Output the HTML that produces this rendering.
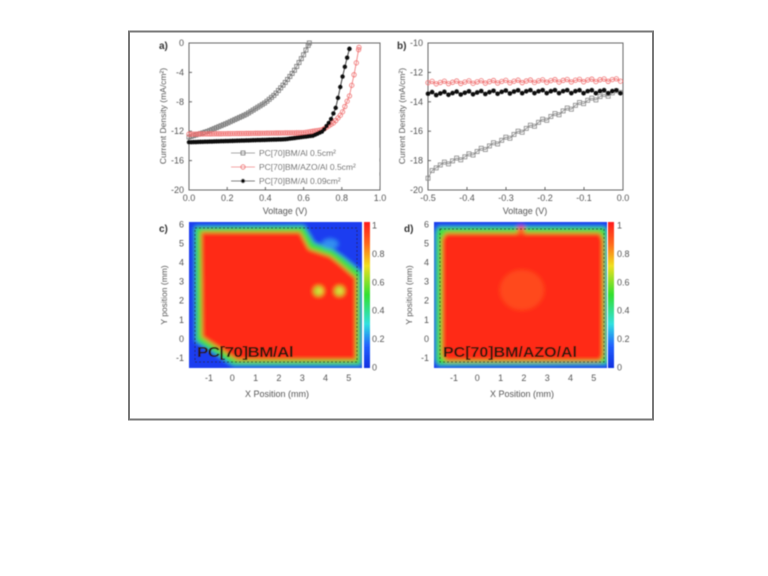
<!DOCTYPE html>
<html><head><meta charset="utf-8"><style>
html,body{margin:0;padding:0;background:#fff;}
svg{display:block;font-family:"Liberation Sans",Arial,sans-serif;}
</style></head><body>
<svg id="s" width="768" height="576" viewBox="0 0 768 576" xmlns="http://www.w3.org/2000/svg">
<defs>
<filter id="bl" x="-10%" y="-10%" width="120%" height="120%"><feGaussianBlur stdDeviation="2.2"/></filter>
<filter id="sb"><feGaussianBlur stdDeviation="0.6"/></filter>
<linearGradient id="cb" x1="0" y1="0" x2="0" y2="1">
<stop offset="0" stop-color="#ff1a1a"/><stop offset="0.15" stop-color="#ff6a1a"/><stop offset="0.3" stop-color="#f0e020"/><stop offset="0.5" stop-color="#30e030"/><stop offset="0.7" stop-color="#30e0e0"/><stop offset="0.85" stop-color="#2060ff"/><stop offset="1" stop-color="#1030e0"/>
</linearGradient>
<clipPath id="cc"><rect x="189" y="222" width="173" height="146"/></clipPath>
<clipPath id="cd"><rect x="434" y="222" width="173" height="146"/></clipPath>
</defs>
<rect x="0" y="0" width="768" height="576" fill="#fff"/>
<rect x="129" y="31.5" width="524" height="388" fill="#fff" stroke="#777" stroke-width="2"/>
<g id="g" filter="url(#sb)"></g>
</svg>
<script>
const g=document.getElementById('g');const NS='http://www.w3.org/2000/svg';
function el(t,a,txt){const e=document.createElementNS(NS,t);for(const k in a)e.setAttribute(k,a[k]);if(txt!==undefined)e.textContent=txt;g.appendChild(e);return e;}
function txt(x,y,s,o){o=o||{};return el('text',Object.assign({x:x,y:y,'font-size':o.fs||9,fill:o.fill||'#555','text-anchor':o.a||'middle'},o.extra||{}),s);}
function interp(pts,x){for(let i=0;i<pts.length-1;i++){if(x>=pts[i][0]&&x<=pts[i+1][0]){const t=(x-pts[i][0])/(pts[i+1][0]-pts[i][0]);return pts[i][1]+t*(pts[i+1][1]-pts[i][1]);}}return pts[pts.length-1][1];}
const ax0=189,ax1=380,ay0=43,ay1=190;
const AX=v=>ax0+v*(ax1-ax0), AY=j=>ay0+(-j)/20*(ay1-ay0);
el('rect',{x:ax0,y:ay0,width:ax1-ax0,height:ay1-ay0,fill:'none',stroke:'#666','stroke-width':1});
for(let i=0;i<=5;i++){const v=i*0.2;const x=AX(v);txt(x,201,v.toFixed(1));el('line',{x1:x,y1:ay1,x2:x,y2:ay1-3,stroke:'#666'});}
for(let j=0;j>=-20;j-=4){const y=AY(j);txt(184,y+3,String(j),{a:'end'});el('line',{x1:ax0,y1:y,x2:ax0+3,y2:y,stroke:'#666'});}
txt(285,214,'Voltage (V)');
txt(159,49,'a)',{fs:10,fill:'#333',extra:{'font-weight':'bold'},a:'start'});
el('text',{x:0,y:0,'font-size':8.5,fill:'#555','text-anchor':'middle',transform:'translate(166,116) rotate(-90)'},'Current Density (mA/cm²)');
const gray=[[0,-12.8],[0.1,-12],[0.2,-10.9],[0.3,-9.7],[0.4,-8.1],[0.45,-7],[0.5,-5.5],[0.55,-3.8],[0.6,-1.6],[0.63,0]];
const red=[[0,-12.4],[0.6,-12.2],[0.7,-11.8],[0.76,-10.8],[0.8,-9.6],[0.84,-7.2],[0.87,-3.6],[0.89,-0.6]];
const blk=[[0,-13.5],[0.5,-13.1],[0.65,-12.6],[0.7,-12],[0.74,-10.6],[0.77,-8.7],[0.8,-5],[0.82,-2.8],[0.84,-0.8]];
function series(pts,step,col,mk,xm){let d='';const pp=[];for(let v=pts[0][0];v<=pts[pts.length-1][0]+1e-9;v+=step){pp.push([v,interp(pts,v)]);}pp.push(pts[pts.length-1]);
 pp.forEach((p,i)=>{d+=(i?'L':'M')+xm(p[0]).toFixed(1)+' '+p[1].toFixed(1)+' ';});
 el('path',{d:d,fill:'none',stroke:col,'stroke-width':0.8});
 pp.forEach(p=>{const x=xm(p[0]),y=p[1];if(mk=='sq')el('rect',{x:x-2,y:y-2,width:4,height:4,fill:'none',stroke:col,'stroke-width':0.8});else if(mk=='oc')el('circle',{cx:x,cy:y,r:2.2,fill:'none',stroke:col,'stroke-width':0.8});else el('circle',{cx:x,cy:y,r:2.2,fill:col});});}
function mapA(pts){return pts.map(p=>[p[0],AY(p[1])]);}
series(mapA(gray),0.012,'#777','sq',AX);
series(mapA(red),0.012,'#f07070','oc',AX);
series(mapA(blk),0.012,'#111','fc',AX);
const lg=[['#777','sq','PC[70]BM/Al 0.5cm²',153],['#f07070','oc','PC[70]BM/AZO/Al 0.5cm²',167],['#111','fc','PC[70]BM/Al 0.09cm²',181]];
lg.forEach(l=>{el('rect',{x:229,y:l[3]-5,width:150,height:10,fill:'#fff'});el('line',{x1:231,y1:l[3],x2:255,y2:l[3],stroke:l[0],'stroke-width':0.8});
 if(l[1]=='sq')el('rect',{x:241,y:l[3]-2,width:4,height:4,fill:'none',stroke:l[0]});else if(l[1]=='oc')el('circle',{cx:243,cy:l[3],r:2.2,fill:'none',stroke:l[0]});else el('circle',{cx:243,cy:l[3],r:2.2,fill:l[0]});
 txt(259,l[3]+3,l[2],{a:'start',fs:8.5});});
const bx0=428,bx1=623;const BX=v=>bx0+(v+0.5)/0.5*(bx1-bx0), BY=j=>ay0+(-10-j)/10*(ay1-ay0);
el('rect',{x:bx0,y:ay0,width:bx1-bx0,height:ay1-ay0,fill:'none',stroke:'#666'});
for(let i=0;i<=5;i++){const v=-0.5+i*0.1;const x=BX(v);txt(x,201,v.toFixed(1));el('line',{x1:x,y1:ay1,x2:x,y2:ay1-3,stroke:'#666'});}
for(let j=-10;j>=-20;j-=2){const y=BY(j);txt(423,y+3,String(j),{a:'end'});el('line',{x1:bx0,y1:y,x2:bx0+3,y2:y,stroke:'#666'});}
txt(525,214,'Voltage (V)');
txt(397,49,'b)',{fs:10,fill:'#333',extra:{'font-weight':'bold'},a:'start'});
el('text',{x:0,y:0,'font-size':8.5,fill:'#555','text-anchor':'middle',transform:'translate(405,116) rotate(-90)'},'Current Density (mA/cm²)');
const bg=[[-0.5,-19.2],[-0.48,-18.4],[-0.4,-17.7],[-0.3,-16.5],[-0.2,-15.2],[-0.1,-14],[0,-13.2]];
function ser3(pts,col,mk,amp){let d='';let k=0;const pp=[];for(let v=-0.5;v<=0.0001;v+=0.0105){pp.push([BX(v),BY(interp(pts,v)+amp*Math.sin(k*2.1))]);k++;}
 pp.forEach((p,i)=>{d+=(i?'L':'M')+p[0].toFixed(1)+' '+p[1].toFixed(1)+' ';});el('path',{d:d,fill:'none',stroke:col,'stroke-width':0.8});
 pp.forEach(p=>{const x=p[0],y=p[1];if(mk=='sq')el('rect',{x:x-2,y:y-2,width:4,height:4,fill:'none',stroke:col,'stroke-width':0.8});else if(mk=='oc')el('circle',{cx:x,cy:y,r:2.2,fill:'none',stroke:col,'stroke-width':0.8});else el('circle',{cx:x,cy:y,r:2.3,fill:col});});}
ser3(bg,'#888','sq',0.12);
ser3([[-0.5,-12.7],[0,-12.5]],'#f07070','oc',0.1);
ser3([[-0.5,-13.45],[-0.25,-13.3],[0,-13.3]],'#111','fc',0.12);
function heat(x0,cid,redPts,grnPts,extra){
 const gg=document.createElementNS(NS,'g');gg.setAttribute('clip-path','url(#'+cid+')');g.appendChild(gg);
 const inner=document.createElementNS(NS,'g');inner.setAttribute('filter','url(#bl)');gg.appendChild(inner);
 function add(t,a){const e=document.createElementNS(NS,t);for(const k in a)e.setAttribute(k,a[k]);inner.appendChild(e);}
 add('rect',{x:x0-10,y:212,width:193,height:166,fill:'#1a3cf0'});
 add('polygon',{points:grnPts,fill:'#40e040'});
 add('polygon',{points:redPts,fill:'#ff2a14'});
 if(extra)extra(add);
}
heat(189,'cc','201,232 300,232 309,249 330,256 340,264 356,278 356,360 237,360 202,337',
 '195,227 304,226 314,243 333,250 344,258 361,272 361,365 233,365 196,341',
 add=>{add('circle',{cx:318.6,cy:291,r:5,fill:'#a0e030'});add('circle',{cx:339.5,cy:291,r:5,fill:'#a0e030'});add('circle',{cx:320,cy:291,r:2.5,fill:'#ffe040'});add('circle',{cx:340,cy:291,r:2.5,fill:'#ffe040'});add('ellipse',{cx:330,cy:244,rx:8,ry:5,fill:'#3090f0'});});
heat(434,'cd','446,233 600,233 603,240 603,356 600,361 446,361 442,355 442,239',
 '438,227 605,227 607,233 607,364 438,365 436,360 436,233',
 add=>{add('circle',{cx:521,cy:230,r:4,fill:'#ff6020'});add('ellipse',{cx:522,cy:290,rx:22,ry:20,fill:'#ff4a1a'});});
el('rect',{x:195,y:228,width:162,height:134,fill:'none',stroke:'#222','stroke-width':0.9,'stroke-dasharray':'2,2'});
el('rect',{x:440,y:229,width:164,height:133,fill:'none',stroke:'#222','stroke-width':0.9,'stroke-dasharray':'2,2'});
[[189,364,372,'c)',209],[434,608,617,'d)',454]].forEach(c=>{
 const x0=c[0],cbx=c[1],lx=c[2],xt0=c[4];
 el('rect',{x:cbx,y:222,width:6,height:146,fill:'url(#cb)'});
 for(let i=0;i<=5;i++){const v=i*0.2;const y=367-v*142;txt(lx,y+3.5,v==0?'0':v==1?'1':v.toFixed(1),{a:'start',fs:9});}
 for(let k=-1;k<=5;k++){txt(xt0+(k+1)*23.3,381,String(k));}
 for(let k=-1;k<=6;k++){txt(x0-5,358-(k+1)*19.1+3,String(k),{a:'end'});}
 txt(x0+88,397,'X Position (mm)');
 el('text',{x:0,y:0,'font-size':8.5,fill:'#555','text-anchor':'middle',transform:'translate('+(x0-22)+',295) rotate(-90)'},'Y position (mm)');
 txt(x0-30,232,c[3],{fs:10,fill:'#333',extra:{'font-weight':'bold'},a:'start'});
});
txt(197,357,'PC[70]BM/Al',{a:'start',fs:15,fill:'#2a1a10',extra:{'font-weight':'bold','letter-spacing':'-0.5','textLength':'96','lengthAdjust':'spacingAndGlyphs'}});
txt(443,357,'PC[70]BM/AZO/Al',{a:'start',fs:15,fill:'#2a1a10',extra:{'font-weight':'bold','textLength':'134','lengthAdjust':'spacingAndGlyphs'}});
</script>
</body></html>
